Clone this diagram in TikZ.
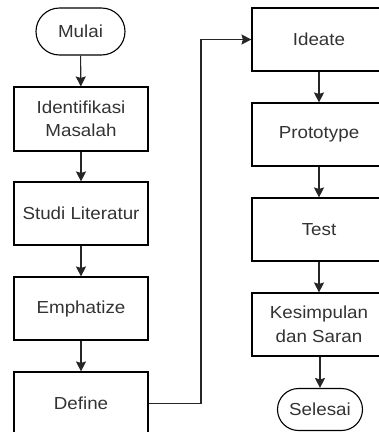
\documentclass[tikz,border=0pt]{standalone}
\usepackage{fontspec}
\setmainfont[FakeStretch=1.08]{Liberation Sans}
\usetikzlibrary{arrows.meta,shapes.misc}
\definecolor{txt}{HTML}{333333}
\begin{document}
\begin{tikzpicture}[x=1pt,y=-1pt,
  every node/.style={font=\fontsize{17.4}{23.5}\selectfont, text=txt, align=center},
  stepbox/.style={draw=black, line width=1.1pt, minimum width=134pt, minimum height=63pt, inner sep=0pt},
  termbox/.style={draw=black, line width=1.1pt, rounded rectangle, inner sep=0pt},
  conn/.style={draw=black!85, line width=1.1pt, -{Stealth[length=10pt,width=10pt,inset=1.5pt]}}]
\useasboundingbox (0,0) rectangle (379,432);
\node[termbox, minimum width=89pt, minimum height=47pt] (mulai) at (80.5,31.5) {Mulai};
\node[stepbox, minimum height=64pt] (ident) at (81,119) {Identifikasi\\Masalah};
\node[stepbox] (studi) at (81,213.5) {Studi Literatur};
\node[stepbox] (emph) at (81,308.5) {Emphatize};
\node[stepbox] (define) at (81,403.5) {Define};
\node[stepbox] (ideate) at (319,39.5) {Ideate};
\node[stepbox] (proto) at (319,134.5) {Prototype};
\node[stepbox] (test) at (319,229.5) {Test};
\node[stepbox] (kesim) at (319,324.5) {Kesimpulan\\dan Saran};
\node[termbox, minimum width=85pt, minimum height=42pt] (selesai) at (320,409.5) {Selesai};
\coordinate (bend) at (201,403.5);
\draw[conn] (mulai) -- (ident);
\draw[conn] (ident) -- (studi);
\draw[conn] (studi) -- (emph);
\draw[conn] (emph) -- (define);
\draw[conn] (define.east) -- (bend) |- (ideate.west);
\draw[conn] (ideate) -- (proto);
\draw[conn] (proto) -- (test);
\draw[conn] (test) -- (kesim);
\draw[conn] (kesim.south -| selesai.north) -- (selesai.north);
\end{tikzpicture}
\end{document}
